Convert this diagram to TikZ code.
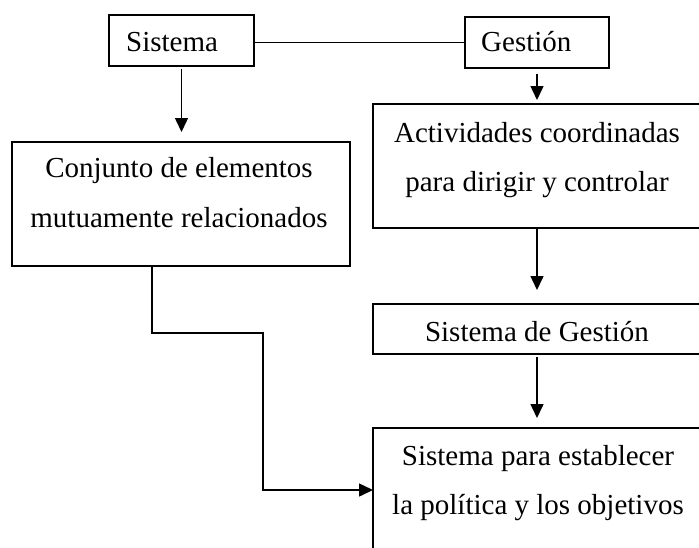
\documentclass[tikz,border=0pt]{standalone}
\usepackage{fontspec}
\setmainfont{Liberation Serif}
\usetikzlibrary{arrows.meta}
\begin{document}
\begin{tikzpicture}[x=1pt,y=-1pt,
  box/.style={draw, line width=1.5pt, inner sep=0pt, outer sep=0pt},
  lbl/.style={font=\fontsize{29}{35}\selectfont, inner sep=0pt},
  ln/.style={line width=1.5pt},
  arr/.style={line width=1.5pt, -{Triangle[length=14pt,width=13pt]}}]
\useasboundingbox (0,0) rectangle (699,547);
\clip (0,0) rectangle (699,547);
% boxes
\node[box, minimum width=145pt, minimum height=51pt] (sis) at (181.5,40.5) {};
\node[box, minimum width=144pt, minimum height=51pt] (ges) at (537,42.5) {};
\node[box, minimum width=338pt, minimum height=124pt] (conj) at (181,204) {};
\node[box, minimum width=328pt, minimum height=124pt] (act) at (537,166) {};
\node[box, minimum width=328pt, minimum height=50pt] (sdg) at (537,329) {};
\node[box, minimum width=328pt, minimum height=124pt] (bot) at (537,490) {};
% texts
\node[lbl, anchor=base west] (tsis) at (126,51) {Sistema};
\node[lbl, anchor=base west] (tges) at (481,51) {Gestión};
\node[lbl, anchor=base] (tconj1) at (179,177) {Conjunto de elementos};
\node[lbl, anchor=base] (tconj2) at (179,227) {mutuamente relacionados};
\node[lbl, anchor=base] (tact1) at (537,142) {Actividades coordinadas};
\node[lbl, anchor=base] (tact2) at (537,191) {para dirigir y controlar};
\node[lbl, anchor=base] (tsdg) at (537,341) {Sistema de Gestión};
\node[lbl, anchor=base] (tbot1) at (538,465) {Sistema para establecer};
\node[lbl, anchor=base] (tbot2) at (538,514) {la política y los objetivos};
% connectors
\coordinate (c1) at (152,333);
\coordinate (c2) at (263,333);
\draw[ln] (sis.east |- ges.west) -- (ges.west);
\draw[arr] ([yshift=-3pt]sis.south) -- ([yshift=10pt]sis.south |- conj.north);
\draw[arr] ([yshift=-6pt]ges.south) -- ([yshift=4pt]ges.south |- act.north);
\draw[arr] (act.south) -- ([yshift=14pt]sdg.north);
\draw[arr] ([yshift=-3pt]sdg.south) -- ([yshift=10pt]bot.north);
\draw[arr] (conj.south -| c1) -- (c1) -- (c2) |- (bot.west);
\end{tikzpicture}
\end{document}
